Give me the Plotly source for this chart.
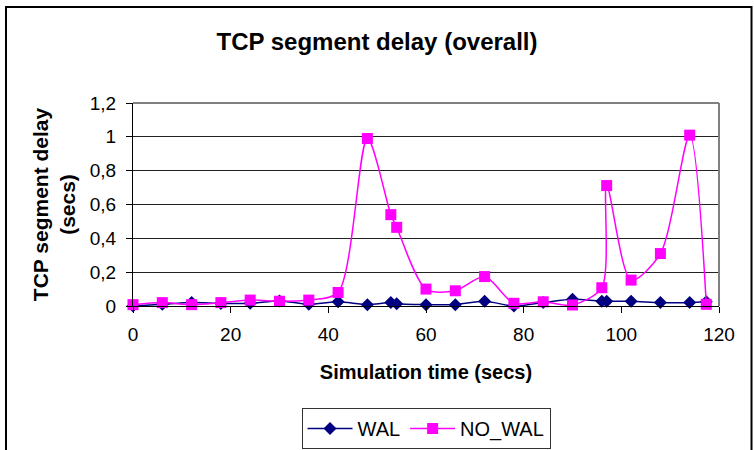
import plotly.graph_objects as go

time_wal = [0, 6, 12, 18, 24, 30, 36, 42, 48, 52.8, 54, 60, 66, 72, 78, 84, 90, 96, 97, 102, 108, 114, 117.4]
wal = [0.0, 0.01, 0.02, 0.015, 0.016, 0.03, 0.01, 0.025, 0.008, 0.02, 0.013, 0.008, 0.008, 0.028, 0.0, 0.02, 0.04, 0.028, 0.028, 0.028, 0.02, 0.02, 0.025]
time_nowal = [0, 6, 12, 18, 24, 30, 36, 42, 48, 52.8, 54, 60, 66, 72, 78, 84, 90, 96, 97, 102, 108, 114, 117.4]
no_wal = [0.008, 0.02, 0.008, 0.02, 0.035, 0.028, 0.035, 0.08, 0.99, 0.54, 0.465, 0.1, 0.09, 0.174, 0.016, 0.025, 0.006, 0.108, 0.712, 0.153, 0.31, 1.01, 0.01]

FONT = "Liberation Sans, Arial, sans-serif"

fig = go.Figure()
fig.add_trace(go.Scatter(
    x=time_wal, y=wal, name="WAL", mode="lines+markers",
    line=dict(color="#000080", width=1.5, shape="spline", smoothing=0.8),
    marker=dict(symbol="diamond", size=10, color="#000080"),
    cliponaxis=False,
))
fig.add_trace(go.Scatter(
    x=time_nowal, y=no_wal, name="NO_WAL", mode="lines+markers",
    line=dict(color="#FF00FF", width=1.5, shape="spline", smoothing=0.8),
    marker=dict(symbol="square", size=11, color="#FF00FF"),
    cliponaxis=False,
))

L, R, T, B = 133, 35, 103, 144
fig.update_layout(
    width=754, height=450,
    margin=dict(l=L, r=R, t=T, b=B, autoexpand=False),
    paper_bgcolor="white", plot_bgcolor="white",
    separators=",.",
    font=dict(family=FONT, size=19, color="black"),
    title=dict(text="<b>TCP segment delay (overall)</b>", x=0.5, xanchor="center",
               y=1 - 42 / 450, yanchor="middle", font=dict(size=24, family=FONT)),
    showlegend=True,
    legend=dict(orientation="h", x=(426 - L) / (754 - L - R), xanchor="center",
                y=-(408 - 306) / (450 - T - B), yanchor="top",
                bordercolor="#333333", borderwidth=1, font=dict(size=20, family=FONT),
                itemwidth=45, tracegroupgap=0),
    xaxis=dict(range=[0, 120], dtick=20, tick0=0, showgrid=False, zeroline=False,
               showline=True, linecolor="black", linewidth=1,
               ticks="outside", ticklen=6, tickcolor="black",
               ticklabelstandoff=5, tickfont=dict(size=19),
               title=dict(text="<b>Simulation time (secs)</b>", font=dict(size=20), standoff=21)),
    yaxis=dict(range=[0, 1.2], dtick=0.2, tick0=0, showgrid=True, gridcolor="#222222",
               gridwidth=1, zeroline=False, showline=True, linecolor="black", linewidth=1,
               ticks="outside", ticklen=6, tickcolor="black",
               ticklabelstandoff=6, tickfont=dict(size=19),
               title=dict(text="<b>TCP segment delay<br>(secs)</b>", font=dict(size=21), standoff=8)),
)

# plot area gray frame (top and right)
fig.add_shape(type="line", xref="paper", yref="paper", x0=0, x1=1, y0=1, y1=1,
              line=dict(color="#808080", width=2))
fig.add_shape(type="line", xref="paper", yref="paper", x0=1, x1=1, y0=0, y1=1,
              line=dict(color="#808080", width=2))

# outer chart border (paper coords relative to plot area)
pw = 754 - L - R
ph = 450 - T - B
def px(x):
    return (x - L) / pw
def py(y):
    return (450 - B - y) / ph
fig.add_shape(type="rect", xref="paper", yref="paper",
              x0=px(6), x1=px(751.5), y0=py(470), y1=py(7),
              line=dict(color="black", width=2), layer="below")

fig.write_html("out.html", config={"displayModeBar": False},
               post_script="document.body.style.margin='0px';")
